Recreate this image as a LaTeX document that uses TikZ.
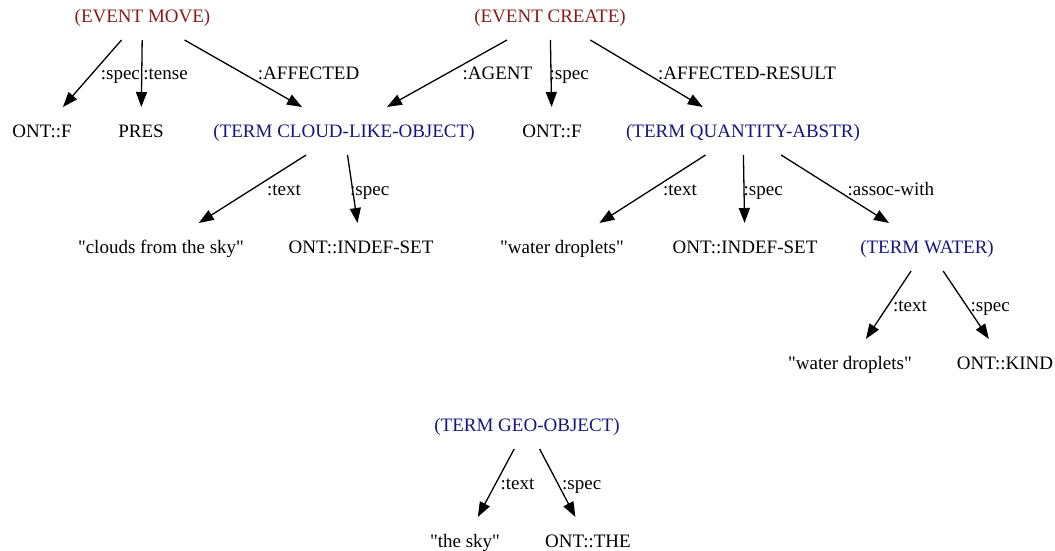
\documentclass[tikz,border=0pt]{standalone}
\usepackage{fontspec}
\setmainfont{Liberation Serif}[Ligatures=TeXOff]
\usetikzlibrary{arrows.meta}
\definecolor{evred}{RGB}{135,28,28}
\definecolor{termblue}{RGB}{22,22,130}

\begin{document}
\begin{tikzpicture}[x=1pt,y=-1pt,>={Triangle[length=15pt,width=11pt]},
  every node/.style={font=\fontsize{19}{22}\selectfont},
  lex/.style={rectangle,minimum height=48pt,text height=13pt,text depth=0pt,inner xsep=4pt,outer sep=0pt},
  ev/.style={lex,text=evred},
  term/.style={lex,text=termblue},
  lbl/.style={anchor=west,inner sep=1pt,text height=13pt,text depth=0pt},
  conn/.style={->,line width=1.3pt}]
\useasboundingbox (0,0) rectangle (1055,551);

% events
\node[ev] (em) at (142.5,16) {(EVENT MOVE)};
\node[ev] (ec) at (550,16)   {(EVENT CREATE)};

% row 2
\node[lex]  (of1)   at (42,131)  {ONT::F};
\node[lex]  (pres)  at (141,131) {PRES};
\node[term] (cloud) at (344,131) {(TERM CLOUD-LIKE-OBJECT)};
\node[lex]  (of2)   at (552,131) {ONT::F};
\node[term] (qa)    at (743,131) {(TERM QUANTITY-ABSTR)};

% row 3
\node[lex]  (clouds) at (161,247) {"clouds from the sky"};
\node[lex]  (indef1) at (361,247) {ONT::INDEF-SET};
\node[lex]  (drops1) at (562,247) {"water droplets"};
\node[lex]  (indef2) at (745,247) {ONT::INDEF-SET};
\node[term] (water)  at (927,247) {(TERM WATER)};

% row 4
\node[lex] (drops2) at (850,363)  {"water droplets"};
\node[lex] (kind)   at (1005,363) {ONT::KIND};

% geo object
\node[term] (geo) at (527,425) {(TERM GEO-OBJECT)};
\node[lex]  (sky) at (465,541) {"the sky"};
\node[lex]  (the) at (588,541) {ONT::THE};

\path[conn] (em) edge node[lbl,xshift=7pt]  {:spec} (of1);
\path[conn] (em) edge node[lbl,xshift=0pt]  {:tense} (pres);
\path[conn] (em) edge node[lbl,xshift=13pt] {:AFFECTED} (cloud);

\path[conn] (ec) edge node[lbl,xshift=14pt] {:AGENT} (cloud);
\path[conn] (ec) edge node[lbl,xshift=-3pt] {:spec} (of2);
\path[conn] (ec) edge node[lbl,xshift=10pt] {:AFFECTED-RESULT} (qa);

\path[conn] (cloud) edge node[lbl,xshift=13pt] {:text} (clouds);
\path[conn] (cloud) edge node[lbl,xshift=-4pt] {:spec} (indef1);

\path[conn] (qa) edge node[lbl,xshift=9pt]  {:text} (drops1);
\path[conn] (qa) edge node[lbl,xshift=-2pt] {:spec} (indef2);
\path[conn] (qa) edge node[lbl,xshift=11pt] {:assoc-with} (water);

\path[conn] (water) edge node[lbl,xshift=3pt] {:text} (drops2);
\path[conn] (water) edge node[lbl,xshift=3pt] {:spec} (kind);

\path[conn] (geo) edge node[lbl,xshift=3pt] {:text} (sky);
\path[conn] (geo) edge node[lbl,xshift=3pt] {:spec} (the);
\end{tikzpicture}
\end{document}
